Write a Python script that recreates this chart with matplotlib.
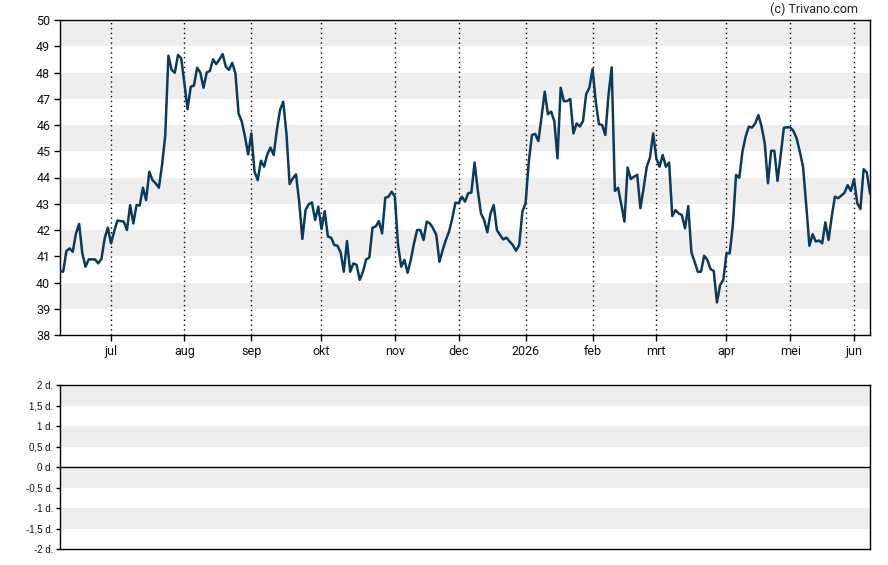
import numpy as np
import pandas as pd
import matplotlib
matplotlib.use("Agg")
import matplotlib.pyplot as plt

# --------- data: daily closes, one list per month ----------
jun25 = [40.44, 40.41, 41.2, 41.3, 41.17, 41.87, 42.23, 41.11, 40.6, 40.88,
         40.88, 40.88, 40.73, 40.9, 41.68, 42.09]
jul25 = [41.49, 41.95, 42.36, 42.34, 42.32, 42.0, 42.95, 42.25, 42.95, 42.93,
         43.61, 43.14, 44.22, 43.9, 43.78, 43.61, 44.48, 45.59, 48.64, 48.1,
         47.99, 48.67, 48.54]
aug25 = [47.6, 46.6, 47.46, 47.5, 48.18, 48.0, 47.42, 48.0, 48.06, 48.5,
         48.32, 48.5, 48.7, 48.22, 48.1, 48.37, 47.97, 46.44, 46.13, 45.56,
         44.88]
sep25 = [45.68, 44.22, 43.9, 44.64, 44.41, 44.88, 45.14, 44.86, 45.81, 46.57,
         46.89, 45.68, 43.75, 43.97, 44.12, 43.08, 41.66, 42.76, 42.98, 43.05,
         42.38, 42.89]
okt25 = [42.04, 42.72, 41.75, 41.71, 41.43, 41.4, 41.15, 40.41, 41.58, 40.41,
         40.73, 40.67, 40.1, 40.41, 40.88, 40.95, 42.09, 42.13, 42.34, 41.87,
         43.23, 43.27, 43.46]
nov25 = [43.27, 41.43, 40.6, 40.86, 40.37, 40.86, 41.49, 42.0, 42.0, 41.62,
         42.32, 42.25, 42.06, 41.81, 40.79, 41.24, 41.62, 41.94, 42.44, 43.04]
dec25 = [43.02, 43.27, 43.08, 43.4, 43.43, 44.57, 43.52, 42.63, 42.38, 41.91,
         42.63, 42.95, 42.0, 41.81, 41.64, 41.71, 41.56, 41.43, 41.21, 41.43,
         42.7]
jan26 = [43.02, 44.6, 45.62, 45.66, 45.39, 46.3, 47.27, 46.41, 46.51, 46.15,
         44.73, 47.42, 46.91, 46.91, 46.99, 45.68, 46.06, 45.94, 46.15, 47.18,
         47.42]
feb26 = [48.13, 46.89, 46.03, 46.0, 45.62, 47.14, 48.2, 43.49, 43.61, 42.98,
         42.32, 44.38, 43.94, 44.03, 44.1, 42.83, 43.59, 44.41, 44.76, 45.68]
mrt26 = [44.73, 44.41, 44.86, 44.41, 44.57, 42.53, 42.76, 42.63, 42.57, 42.06,
         42.91, 41.15, 40.79, 40.41, 40.41, 41.02, 40.86, 40.51, 40.44, 39.24,
         39.9, 40.1]
apr26 = [41.11, 41.11, 42.19, 44.1, 43.99, 44.98, 45.56, 45.94, 45.9, 46.06,
         46.38, 45.94, 45.3, 43.78, 45.02, 45.02, 43.87, 44.86, 45.9, 45.91]
mei26 = [45.91, 45.77, 45.49, 44.98, 44.41, 42.95, 41.4, 41.84, 41.56, 41.6,
         41.49, 42.29, 41.62, 42.51, 43.27, 43.21, 43.31, 43.42, 43.71, 43.49]
jun26 = [43.94, 43.02, 42.8, 44.32, 44.19, 43.4]

closes = (jun25 + jul25 + aug25 + sep25 + okt25 + nov25 + dec25 + jan26 +
          feb26 + mrt26 + apr26 + mei26 + jun26)

holidays = ["2025-12-25", "2025-12-26", "2026-01-01", "2026-04-03",
            "2026-04-06", "2026-05-01"]
dates = pd.bdate_range("2025-06-09", "2026-06-08", freq="C", holidays=holidays)
assert len(dates) == len(closes)

month_names = ["jan", "feb", "mrt", "apr", "mei", "jun", "jul", "aug",
               "sep", "okt", "nov", "dec"]

y_ticks = list(range(38, 51))
lower_ticks = [2, 1.5, 1, 0.5, 0, -0.5, -1, -1.5, -2]

# --------- month starts (trading-day index) ----------
idx = np.arange(len(dates))
month_key = dates.year * 12 + dates.month
starts = [i for i in range(1, len(dates)) if month_key[i] != month_key[i - 1]]
labels = []
for i in starts:
    d = dates[i]
    labels.append(str(d.year) if d.month == 1 else month_names[d.month - 1])

# --------- figure ----------
W, H = 888, 565
fig = plt.figure(figsize=(W / 100, H / 100), dpi=100)
plt.rcParams['font.family'] = ['Roboto', 'DejaVu Sans']

ax = fig.add_axes([60 / W, 1 - 335 / H, 810 / W, 315 / H])
band = "#eeeeee"
for lo in range(39, 50, 2):
    ax.axhspan(lo, lo + 1, color=band, lw=0, zorder=0)
for i in starts:
    ax.axvline(i, color="black", ls=(0, (1, 2.5)), lw=1, zorder=1)
ax.plot(idx, closes, color="#0b3a5c", lw=1.8, zorder=3,
        solid_joinstyle="round")
ax.set_xlim(0, len(dates) - 1)
ax.set_ylim(38, 50)
ax.set_yticks(y_ticks)
ax.set_xticks(starts)
ax.set_xticklabels(labels)
ax.tick_params(axis="both", labelsize=9, length=4, width=1, color="black",
               labelcolor="#111111", pad=3)
for s in ax.spines.values():
    s.set_color("black")
    s.set_linewidth(1)

fig.text(858 / W, 1 - 9 / H, "(c) Trivano.com", ha="right", va="center",
         fontsize=9, color="#222222")

# --------- lower panel ----------
ax2 = fig.add_axes([60 / W, 1 - 549 / H, 810 / W, 164 / H])
for top in [2, 1, 0, -1]:
    ax2.axhspan(top - 0.5, top, color=band, lw=0, zorder=0)
ax2.axhline(0, color="black", lw=1, zorder=2)
ax2.set_xlim(0, len(dates) - 1)
ax2.set_ylim(-2, 2)
ax2.set_xticks([])
ax2.set_yticks(lower_ticks)
ax2.set_yticklabels([(f"{t:g}".replace(".", ",") + " d.") for t in lower_ticks],
                    family=["Liberation Sans", "DejaVu Sans"])
ax2.tick_params(axis="y", labelsize=7, length=3, width=1, pad=2,
                labelcolor="#111111")
for s in ax2.spines.values():
    s.set_color("black")
    s.set_linewidth(1)

fig.savefig("out.png", dpi=100)
